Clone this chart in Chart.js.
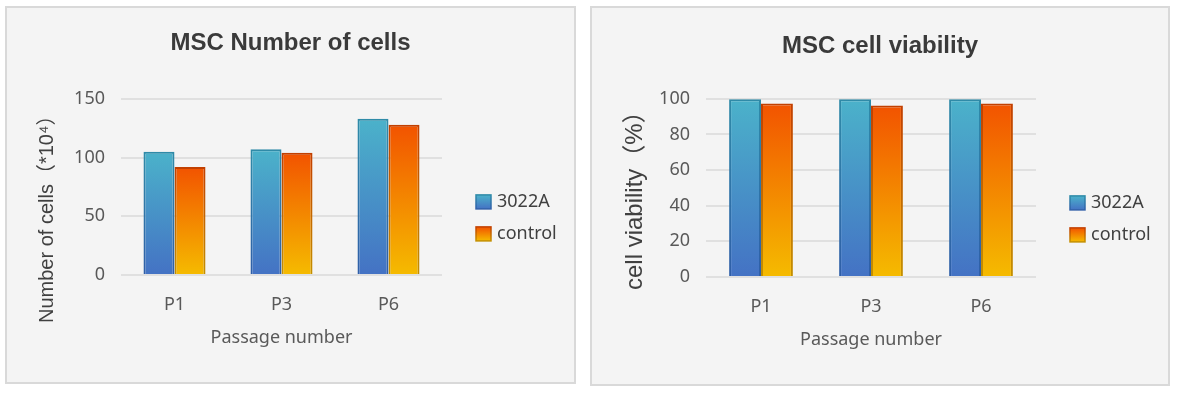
<!DOCTYPE html>
<html>
<head>
<meta charset="utf-8">
<script src="https://cdn.jsdelivr.net/npm/chart.js@4"></script>
<style>
  body { margin: 0; background: #fff; width: 1177px; height: 393px; position: relative; overflow: hidden; }
  .panel { position: absolute; box-sizing: border-box; border: 2px solid #d9d9d9; background: #f4f4f4; }
  #panelCells { left: 5px; top: 6px; width: 571px; height: 378px; }
  #panelViab { left: 590px; top: 6px; width: 580px; height: 380px; }
  canvas { position: absolute; left: 0; top: 0; }
</style>
</head>
<body>
<div class="panel" id="panelCells"><canvas id="graficoCells" width="567" height="374"></canvas></div>
<div class="panel" id="panelViab"><canvas id="graficoViab" width="576" height="376"></canvas></div>
<script>
// dados
const passages = ["P1", "P3", "P6"];
const seriesNames = ["3022A", "control"];
const cells3022A = [105, 107, 133];
const cellsControl = [92, 104, 128];
const viability3022A = [99.8, 99.8, 99.8];
const viabilityControl = [97.4, 96.2, 97.4];
const cellsMax = 150, cellsStep = 50;
const viabMax = 100, viabStep = 20;

const FONT = "'Noto Sans', 'Noto Sans CJK SC', sans-serif";
const ARIAL = "'Liberation Sans', 'Noto Sans CJK SC', sans-serif";
// gradient colours (top -> bottom) for fill and border
const blue = { top: "#4bb2ca", bottom: "#4472c4", lineTop: "#2f8ba8", lineBottom: "#2f5ea8" };
const orange = { top: "#f25300", bottom: "#f5bb00", lineTop: "#c23f00", lineBottom: "#c49000" };

function vGrad(ctx, y0, y1, c0, c1) {
  const g = ctx.createLinearGradient(0, y0, 0, y1);
  g.addColorStop(0, c0);
  g.addColorStop(1, c1);
  return g;
}

function barFill(c, border) {
  return (context) => {
    const chart = context.chart;
    const y = chart.scales.y;
    const c0 = border ? c.lineTop : c.top;
    const c1 = border ? c.lineBottom : c.bottom;
    if (!y || context.raw == null) return c0;
    const yTop = y.getPixelForValue(context.raw);
    const yBase = y.getPixelForValue(0);
    if (!isFinite(yTop) || !isFinite(yBase) || yTop === yBase) return c0;
    return vGrad(chart.ctx, yTop, yBase, c0, c1);
  };
}

// legenda lateral + titulo do eixo Y
const sideLegend = {
  id: "sideLegend",
  afterDraw(chart, args, opts) {
    const { ctx, chartArea: a } = chart;
    const mid = (a.top + a.bottom) / 2;
    ctx.save();
    chart.data.datasets.forEach((ds, i) => {
      const c = opts.colors[i];
      const x = a.right + 34;
      const cy = mid + 15 + i * 32;
      ctx.fillStyle = vGrad(ctx, cy - 7, cy + 7, c.top, c.bottom);
      ctx.fillRect(x, cy - 7, 15, 14);
      ctx.strokeStyle = vGrad(ctx, cy - 7, cy + 7, c.lineTop, c.lineBottom);
      ctx.lineWidth = 1.5;
      ctx.strokeRect(x, cy - 7, 15, 14);
      ctx.fillStyle = "#404040";
      ctx.font = "18px " + FONT;
      ctx.textBaseline = "middle";
      ctx.textAlign = "left";
      ctx.fillText(ds.label, x + 21, cy);
    });
    // y axis caption, starts below the plot like the original
    ctx.translate(opts.captionX, a.bottom + opts.captionDy);
    ctx.rotate(-Math.PI / 2);
    ctx.fillStyle = "#404040";
    ctx.font = opts.captionSize + "px " + ARIAL;
    ctx.textAlign = "left";
    ctx.textBaseline = "middle";
    ctx.fillText(opts.caption, 0, 0);
    ctx.restore();
  }
};

function makeChart(id, data1, data2, max, step, title, titlePad, legendOpts) {
  return new Chart(document.getElementById(id), {
    type: "bar",
    data: {
      labels: passages,
      datasets: [
        { label: seriesNames[0], data: data1, backgroundColor: barFill(blue), borderColor: barFill(blue, true), borderWidth: 2 },
        { label: seriesNames[1], data: data2, backgroundColor: barFill(orange), borderColor: barFill(orange, true), borderWidth: 2 }
      ]
    },
    options: {
      responsive: false,
      animation: false,
      layout: { padding: 0 },
      datasets: { bar: { categoryPercentage: 0.58, barPercentage: 1 } },
      plugins: {
        legend: { display: false },
        tooltip: { enabled: false },
        title: {
          display: true, text: title, color: "#3a3a3a",
          font: { family: ARIAL, size: 24, weight: "bold" },
          padding: titlePad
        },
        sideLegend: legendOpts
      },
      scales: {
        x: {
          grid: { display: false },
          border: { display: false },
          ticks: { color: "#595959", font: { family: FONT, size: 18 }, padding: 11 },
          title: { display: true, text: "Passage number", color: "#595959", font: { family: FONT, size: 18 }, padding: { top: 0, bottom: 33 } },
          afterFit: (s) => { s.height = 107; }
        },
        y: {
          min: 0, max: max,
          grid: { color: "#e0e0e0", lineWidth: 2, drawTicks: false },
          border: { display: false },
          ticks: { stepSize: step, color: "#595959", font: { family: FONT, size: 18 }, padding: 16 },
          afterFit: (s) => { s.width = 114; }
        },
        // empty right axis, only keeps room for the legend
        legendSpace: {
          type: "linear", position: "right",
          grid: { display: false }, border: { display: false }, ticks: { display: false },
          afterFit: (s) => { s.width = 132; }
        }
      }
    },
    plugins: [sideLegend]
  });
}

makeChart("graficoCells", cells3022A, cellsControl, cellsMax, cellsStep, "MSC Number of cells", { top: 21, bottom: 41 },
  { colors: [blue, orange], caption: "Number of cells（*10⁴）", captionX: 40, captionDy: 48, captionSize: 20 });
makeChart("graficoViab", viability3022A, viabilityControl, viabMax, viabStep, "MSC cell viability", { top: 24, bottom: 38 },
  { colors: [blue, orange], caption: "cell viability（%）", captionX: 43, captionDy: 13, captionSize: 24 });
</script>
</body>
</html>
